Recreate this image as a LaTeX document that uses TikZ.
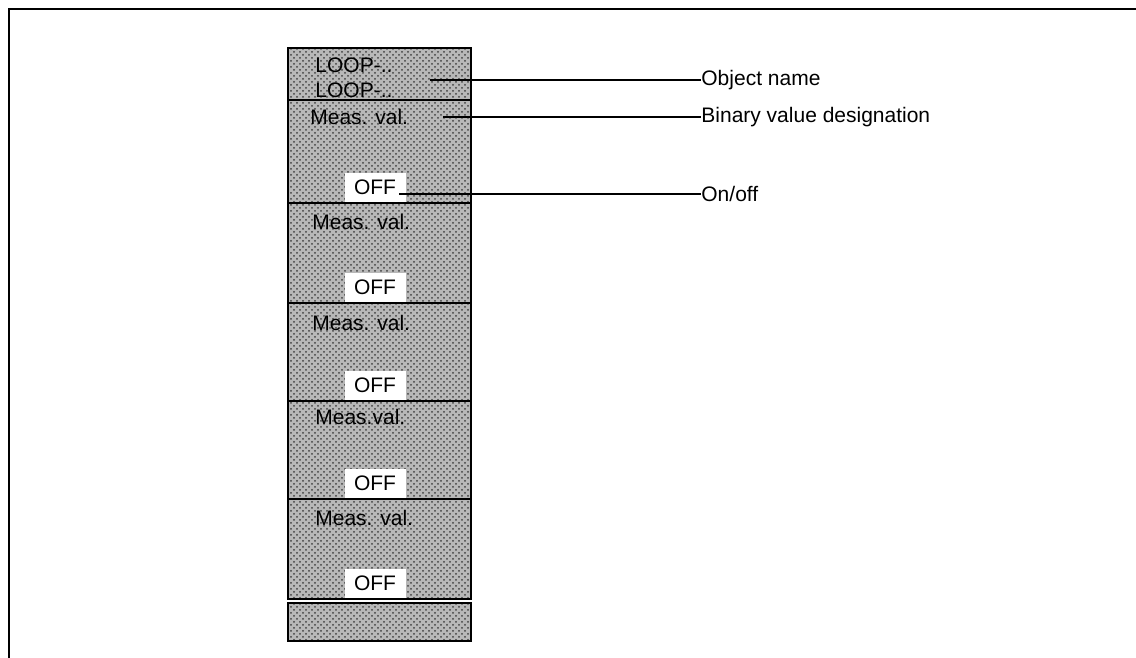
\documentclass[tikz,border=0pt]{standalone}
\usepackage{fontspec}
\setmainfont{Liberation Sans}
\usetikzlibrary{patterns}
\begin{document}
\begin{tikzpicture}[x=0.5pt,y=-0.5pt,
  txt/.style={font=\fontsize{10.5}{12}\selectfont, inner sep=0pt},
  coltxt/.style={txt, anchor=west, text=black},
  lbl/.style={txt, anchor=west},
  offbox/.style={fill=white, draw=none, minimum width=30.5pt, minimum height=15pt, inner sep=0pt, anchor=south, font=\fontsize{10.5}{12}\selectfont},
  shade/.style={fill=black!28, postaction={pattern=crosshatch dots, pattern color=black!75}},
  lead/.style={line width=0.6pt},
  frame/.style={line width=0.8pt}]
\useasboundingbox (0,0) rectangle (1136,658);
% frame
\draw[frame] (9,658) -- (9,9) -- (1136,9);
% column
\path[shade] (288,48) rectangle (471,599);
\path[shade] (288,603) rectangle (471,641);
\foreach \b in {203,303,401,499,599}{
  \node[offbox] (off\b) at (375,\b) {OFF};
}
\draw[line width=0.9pt] (288,48) rectangle (471,599);
\draw[line width=0.9pt] (288,603) rectangle (471,641);
\foreach \y in {100,203,303,401,499}{
  \draw[line width=0.9pt] (288,\y) -- (471,\y);
}
% texts in column
\node[coltxt] (loop1) at (315,65) {LOOP-..};
\node[coltxt] (loop2) at (315,90) {LOOP-..};
\node[coltxt] (mv1) at (310,117) {Meas. val.};
\node[coltxt] (mv2) at (312,222) {Meas. val.};
\node[coltxt] (mv3) at (312,323) {Meas. val.};
\node[coltxt] (mv4) at (315,417) {Meas.val.};
\node[coltxt] (mv5) at (315,518) {Meas. val.};
% labels
\node[lbl] (objname) at (701,80) {Object name};
\node[lbl] (binval) at (701,117) {Binary value designation};
\node[lbl] (onoff) at (701,194) {On/off};
% leader start points
\coordinate (s1) at (430,80);
\coordinate (s2) at (443,117);
\coordinate (s3) at (399,194);
\draw[lead] (s1) -- (objname.west);
\draw[lead] (s2) -- (binval.west);
\draw[lead] (s3) -- (onoff.west);
\end{tikzpicture}
\end{document}
